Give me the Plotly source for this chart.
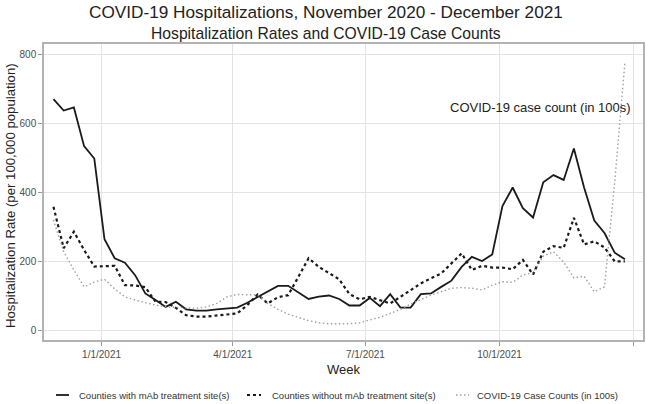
import pandas as pd
import plotly.graph_objects as go

weeks = pd.date_range("2020-11-29", periods=57, freq="7D")

with_mab = [670, 637, 646, 534, 498, 264, 209, 196, 160, 107, 88, 68, 83, 61, 57, 57,
            61, 63, 66, 80, 96, 112, 129, 129, 110, 91, 98, 101, 91, 72, 72, 94, 70,
            105, 66, 66, 105, 107, 126, 144, 184, 213, 201, 220, 360, 414, 354, 327,
            429, 450, 436, 527, 414, 318, 282, 225, 206]

without_mab = [358, 238, 286, 233, 185, 187, 187, 131, 130, 125, 83, 82, 65, 44, 40, 40,
               44, 46, 49, 73, 104, 78, 96, 102, 155, 209, 184, 165, 148, 105, 90, 97,
               88, 78, 97, 117, 136, 151, 165, 194, 223, 175, 187, 182, 182, 177, 204,
               162, 228, 244, 239, 326, 249, 258, 240, 200, 200]

case_counts_100s = [320, 228, 175, 126, 140, 148, 120, 97, 88, 80, 73, 68, 66, 64, 64,
                    68, 78, 97, 104, 103, 103, 78, 61, 47, 37, 28, 22, 19, 19, 19, 22,
                    30, 38, 49, 61, 76, 90, 102, 112, 122, 124, 122, 117, 131, 141, 139,
                    160, 167, 215, 228, 198, 152, 157, 112, 126, 430, 776]

series_names = ["Counties with mAb treatment site(s)",
                "Counties without mAb treatment site(s)",
                "COVID-19 Case Counts (in 100s)"]

x_tick_vals = ["2021-01-01", "2021-04-01", "2021-07-01", "2021-10-01", "2022-01-01"]
x_tick_text = ["1/1/2021", "4/1/2021", "7/1/2021", "10/1/2021", "1/1/2022"]
y_tick_vals = [0, 200, 400, 600, 800]

FONT = "Liberation Sans, Arial, sans-serif"

styles = [dict(color="#1a1a1a", width=1.8),
          dict(color="#1a1a1a", width=2.2, dash="3px,3px"),
          dict(color="#a0a0a0", width=1.4, dash="1.5px,2.5px")]

fig = go.Figure()
for ys, nm, st in zip([with_mab, without_mab, case_counts_100s], series_names, styles):
    fig.add_trace(go.Scatter(x=weeks, y=ys, mode="lines", name=nm, line=st,
                             showlegend=False))

W_PLOT = 599.0
H_PLOT = 296.0
def px(xp):
    return (xp - 44) / W_PLOT
def py(yp):
    return (340 - yp) / H_PLOT

# manual legend (positions in paper coords)
legend_y = py(395)
sample_x = [(56, 69), (247, 261), (456, 469)]
text_x = [77, 270, 475]
shapes = []
annotations = []
for (x0, x1), tx, nm, st in zip(sample_x, text_x, series_names, styles):
    shapes.append(dict(type="line", xref="paper", yref="paper",
                       x0=px(x0), x1=px(x1), y0=legend_y, y1=legend_y,
                       line=st))
    annotations.append(dict(text=nm, xref="paper", yref="paper", x=px(tx), y=legend_y,
                            xanchor="left", yanchor="middle", showarrow=False,
                            font=dict(size=9.5, color="#333333")))

annotations += [
    dict(text="COVID-19 Hospitalizations, November 2020 - December 2021",
         xref="paper", yref="paper", x=px(326), y=py(12), xanchor="center", yanchor="middle",
         showarrow=False, font=dict(size=17.2, color="#222222")),
    dict(text="Hospitalization Rates and COVID-19 Case Counts",
         xref="paper", yref="paper", x=px(326), y=py(33), xanchor="center", yanchor="middle",
         showarrow=False, font=dict(size=15.7, color="#222222")),
    dict(text="Week", xref="paper", yref="paper", x=0.5, y=py(369),
         xanchor="center", yanchor="middle", showarrow=False,
         font=dict(size=13, color="#222222")),
    dict(text="Hospitalization Rate (per 100,000 population)", xref="paper", yref="paper",
         x=px(10), y=py(196), xanchor="center", yanchor="middle", textangle=-90,
         showarrow=False, font=dict(size=13.2, color="#222222")),
    dict(text="COVID-19 case count (in 100s)", xref="paper", yref="paper",
         x=px(540), y=py(107), xanchor="center", yanchor="middle", showarrow=False,
         font=dict(size=13, color="#222222")),
]

fig.update_layout(
    width=653, height=404,
    margin=dict(l=44, r=10, t=44, b=64, autoexpand=False),
    paper_bgcolor="white", plot_bgcolor="white",
    font=dict(family=FONT, color="#333333"),
    showlegend=False,
    xaxis=dict(type="date", range=["2020-11-22 12:00", "2022-01-07 10:00"],
               tickvals=x_tick_vals, ticktext=x_tick_text,
               tickfont=dict(size=10, color="#4d4d4d"),
               ticks="outside", ticklen=4, tickcolor="#9a9a9a",
               showgrid=True, gridcolor="#e3e3e3", gridwidth=1,
               showline=True, mirror=True, linecolor="#b3b3b3", linewidth=1.5,
               zeroline=False, automargin=False),
    yaxis=dict(range=[-28, 830], tickvals=y_tick_vals,
               tickfont=dict(size=10, color="#4d4d4d"),
               ticks="outside", ticklen=4, tickcolor="#9a9a9a",
               showgrid=True, gridcolor="#e3e3e3", gridwidth=1,
               showline=True, mirror=True, linecolor="#b3b3b3", linewidth=1.5,
               zeroline=False, automargin=False),
    shapes=shapes,
    annotations=annotations,
)

fig.write_html("out.html", config={"displayModeBar": False},
               post_script="document.body.style.margin='0';")
